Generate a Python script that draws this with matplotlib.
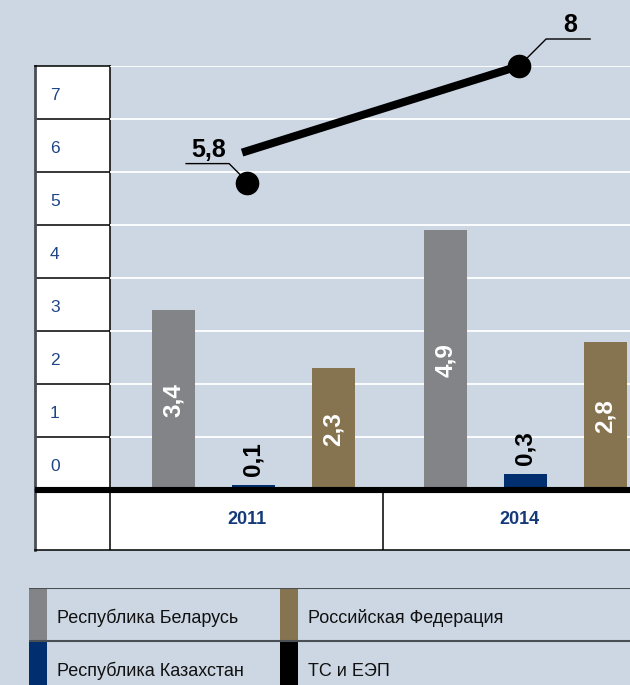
import matplotlib
matplotlib.use("Agg")
import matplotlib.pyplot as plt
from matplotlib.patches import Rectangle
from matplotlib.lines import Line2D
from matplotlib.transforms import IdentityTransform

plt.rcParams['font.family'] = ['Liberation Sans', 'DejaVu Sans']

# ---- data ----
years = ['2011', '2014']
series_names = ['Республика Беларусь', 'Республика Казахстан', 'Российская Федерация']
belarus = [3.4, 4.9]
kazakhstan = [0.1, 0.3]
russia = [2.3, 2.8]
union_total = [5.8, 8]
union_name = 'ТС и ЕЭП'
y_ticks = [0, 1, 2, 3, 4, 5, 6, 7]

# ---- style ----
BG = '#cdd7e3'
C_GRAY = '#838488'
C_BLUE = '#002e6e'
C_BROWN = '#85744f'
C_TICK = '#1f4585'
W, H = 630, 685
DPI = 100

fig = plt.figure(figsize=(W / DPI, H / DPI), dpi=DPI, facecolor=BG)

def fx(px):
    return px / W

def fy(py):  # py measured from top
    return 1 - py / H

# left tick column
axl = fig.add_axes([fx(35), fy(490), fx(75), (490 - 66) / H])
axl.set_facecolor('white')
axl.set_ylim(0, 8)
axl.set_xlim(0, 1)
axl.set_xticks([])
axl.set_yticks([])
for k in range(1, 8):
    axl.axhline(k, color='black', lw=1.1)
for s in ['top', 'right', 'bottom']:
    axl.spines[s].set_color('black')
    axl.spines[s].set_linewidth(1.1)
axl.spines['left'].set_color('#4a4e55')
axl.spines['left'].set_linewidth(2)
for k in y_ticks:
    axl.text(0.2, k + 0.44, str(k), color=C_TICK, fontsize=12.5, va='center', ha='left')

# category row
xl_px, xr_px, c0_px, step_px = 110, 630, 253.5, 80
def dx(px):
    return (px - c0_px) / step_px

axc = fig.add_axes([fx(35), fy(550), fx(595), 60 / H])
axc.set_facecolor('white')
axc.set_xlim(dx(35), dx(630))
axc.set_ylim(0, 1)
axc.set_xticks([])
axc.set_yticks([])
axc.spines['right'].set_visible(False)
axc.spines['top'].set_visible(False)
axc.spines['bottom'].set_color('black')
axc.spines['bottom'].set_linewidth(1.1)
axc.spines['left'].set_color('#4a4e55')
axc.spines['left'].set_linewidth(2)

# main plot
ax = fig.add_axes([fx(110), fy(490), fx(520), (490 - 66) / H], zorder=5)
ax.set_facecolor('none')
ax.set_xlim(dx(110), dx(630))
ax.set_ylim(0, 8)
ax.set_yticks(range(1, 9))
ax.set_yticklabels([])
ax.set_xticks([])
ax.tick_params(length=0)
ax.yaxis.grid(True, color='white', lw=1.3)
ax.set_axisbelow(True)
for s in ax.spines.values():
    s.set_visible(False)

group_centers = [0, 3.4]
offsets = [-1, 0, 1]
bar_w = 0.54
values = [belarus, kazakhstan, russia]
colors = [C_GRAY, C_BLUE, C_BROWN]

for si, (vals, col) in enumerate(zip(values, colors)):
    xs = [g + offsets[si] for g in group_centers]
    ax.bar(xs, vals, width=bar_w, color=col, zorder=3)
    for x, v in zip(xs, vals):
        lab = f'{v:g}'.replace('.', ',')
        if v >= 1:
            ax.text(x, v / 2, lab, rotation=90, ha='center', va='center',
                    color='white', fontsize=17.5, fontweight='bold', zorder=4)
        else:
            ax.annotate(lab, (x, v), xytext=(0, 9), textcoords='offset pixels',
                        rotation=90, ha='center', va='bottom', color='black',
                        fontsize=17.5, fontweight='bold', zorder=4)

# category cells
divider = (group_centers[0] + group_centers[1]) / 2 - 0.08
axc.axvline(dx(110), color='black', lw=1.1)
axc.axvline(divider, color='black', lw=1.1)
for g, y in zip(group_centers, years):
    axc.text(g - 0.08, 0.5, y, ha='center', va='center', color='#143a7a',
             fontsize=13, fontweight='bold')

# thick baseline across the table
ax.plot([-75 / 520, 1], [0, 0], transform=ax.transAxes, color='black',
        lw=4.4, clip_on=False, zorder=6, solid_capstyle='butt')

# union line
line_x = [g - 0.08 for g in group_centers]
ax.plot(line_x, union_total, 'o', color='black', markersize=16, zorder=7, clip_on=False)
fig.canvas.draw()
p0 = ax.transData.transform((line_x[0], union_total[0]))
p1 = ax.transData.transform((line_x[1], union_total[1]))
ident = IdentityTransform()
fig.add_artist(Line2D([p0[0] - 5, p1[0]], [p0[1] + 30, p1[1]], transform=ident,
                      color='black', lw=5.8, solid_capstyle='butt', zorder=7))
# leaders
fig.add_artist(Line2D([p0[0] - 61, p0[0] - 18, p0[0] - 7],
                      [p0[1] + 19, p0[1] + 19, p0[1] + 8], transform=ident,
                      color='black', lw=1.0, zorder=7))
fig.add_artist(Line2D([p1[0] + 8, p1[0] + 27, p1[0] + 71],
                      [p1[1] + 8, p1[1] + 27, p1[1] + 27], transform=ident,
                      color='black', lw=1.0, zorder=7))
for p, v, ddx, ddy in [(p0, union_total[0], -38, 26), (p1, union_total[1], 51, 34)]:
    lab = f'{v:g}'.replace('.', ',')
    fig.text(p[0] + ddx, p[1] + ddy, lab, transform=ident, ha='center',
             va='baseline', fontsize=18, fontweight='bold', color='black', zorder=8)

# legend block
axg = fig.add_axes([fx(29), 0, fx(601), (H - 588) / H])
axg.set_facecolor('none')
axg.set_xlim(29, 630)
axg.set_ylim(685, 588)
axg.axis('off')
axg.axhline(588, color='#4a4e55', lw=1.5)
axg.axhline(641, color='#4a4e55', lw=1.5)
leg_items = [(series_names[0], C_GRAY, 29, 588), (series_names[1], C_BLUE, 29, 641),
             (series_names[2], C_BROWN, 280, 588), (union_name, 'black', 280, 641)]
for name, col, x0, y0 in leg_items:
    axg.add_patch(Rectangle((x0, y0 + 1), 18, 52, color=col, lw=0))
    axg.text(x0 + 28, y0 + 30, name, ha='left', va='center', fontsize=13, color='#111111')

fig.savefig('out.png', dpi=DPI, facecolor=BG)
